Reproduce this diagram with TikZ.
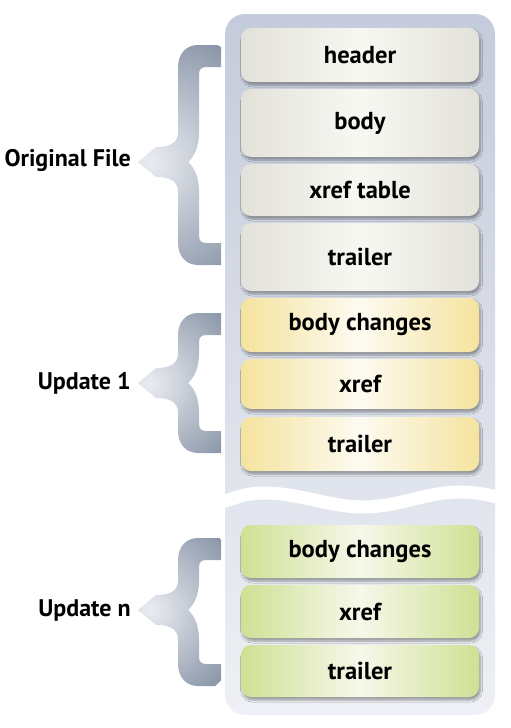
\documentclass[tikz,border=0pt]{standalone}
\usepackage{fontspec}
\setmainfont{PT Sans}
\usetikzlibrary{shadows.blur}
\definecolor{colTop}{RGB}{196,203,219}
\definecolor{colBot}{RGB}{238,240,245}
\definecolor{grayE}{RGB}{226,226,218}
\definecolor{grayC}{RGB}{248,248,243}
\definecolor{yelE}{RGB}{245,227,158}
\definecolor{yelC}{RGB}{253,251,242}
\definecolor{grnE}{RGB}{208,224,148}
\definecolor{grnC}{RGB}{246,248,234}
\definecolor{braceD}{RGB}{138,150,168}
\definecolor{braceL}{RGB}{234,236,241}
\tikzset{
  part/.style={rounded corners=10pt, minimum width=238pt, inner sep=0pt,
    font=\bfseries\fontsize{24.5}{28}\selectfont, text=black,
    blur shadow={shadow xshift=1.5pt, shadow yshift=-3pt, shadow blur steps=6, shadow opacity=35}},
  grayp/.style={part, left color=grayE, right color=grayE, middle color=grayC},
  yelp/.style={part, left color=yelE, right color=yelE, middle color=yelC},
  grnp/.style={part, left color=grnE, right color=grnE, middle color=grnC},
  lbl/.style={anchor=east, font=\bfseries\fontsize{24}{28}\selectfont, text=black, inner sep=0pt}
}
\newcommand\mybrace[4]{% top, bottom, mid, radius
  \path[path picture={\shade[inner color=braceL, outer color=braceD] (150,#3) circle (#4);}]
   (221,#1) -- (198,#1) .. controls (186,#1) and (178,#1+9) .. (178,#1+22)
   -- (178,#3-30) .. controls (178,#3-19) and (170,#3-15) .. (156,#3-15)
   -- (138,#3) -- (156,#3+15)
   .. controls (170,#3+15) and (178,#3+19) .. (178,#3+30)
   -- (178,#2-22) .. controls (178,#2-9) and (186,#2) .. (198,#2)
   -- (221,#2) -- (221,#2-22) -- (206,#2-22)
   .. controls (202,#2-22) and (199,#2-24) .. (199,#2-29)
   -- (199,#3+30) .. controls (199,#3+16) and (195,#3+6) .. (188,#3)
   .. controls (195,#3-6) and (199,#3-16) .. (199,#3-30)
   -- (199,#1+29) .. controls (199,#1+24) and (202,#1+22) .. (206,#1+22)
   -- (221,#1+22) -- cycle;
}
\begin{document}
\begin{tikzpicture}[x=1pt,y=-1pt]
\useasboundingbox (0,0) rectangle (511,728);
% column
\shade[top color=colTop, bottom color=colBot, rounded corners=20pt] (225,14) rectangle (495,715);
% break
\draw[white, line width=13pt] (212,506) .. controls (238,496) and (250,493) .. (263,493)
  .. controls (300,493) and (330,507) .. (363,507)
  .. controls (400,507) and (425,492) .. (460,492)
  .. controls (480,492) and (495,496) .. (505,500);
% boxes
\node[grayp, minimum height=54pt] (header) at (360,55) {header};
\node[grayp, minimum height=68pt] (body) at (360,123) {body};
\node[grayp, minimum height=52pt] (xreft) at (360,190) {xref table};
\node[grayp, minimum height=68pt] (trailer0) at (360,257) {trailer};
\node[yelp, minimum height=54pt] (bc1) at (360,325) {body changes};
\node[yelp, minimum height=50pt] (xref1) at (360,384) {xref};
\node[yelp, minimum height=54pt] (trailer1) at (360,444) {trailer};
\node[grnp, minimum height=53pt] (bcn) at (360,551.5) {body changes};
\node[grnp, minimum height=53pt] (xrefn) at (360,611.5) {xref};
\node[grnp, minimum height=52pt] (trailern) at (360,671) {trailer};
% braces
\mybrace{45}{265}{162}{135}
\mybrace{313}{453}{383}{100}
\mybrace{538}{686}{610}{100}
% labels
\node[lbl] (orig) at (131,160) {Original File};
\node[lbl] (up1) at (131,383) {Update 1};
\node[lbl] (upn) at (131,610) {Update n};
\end{tikzpicture}
\end{document}
